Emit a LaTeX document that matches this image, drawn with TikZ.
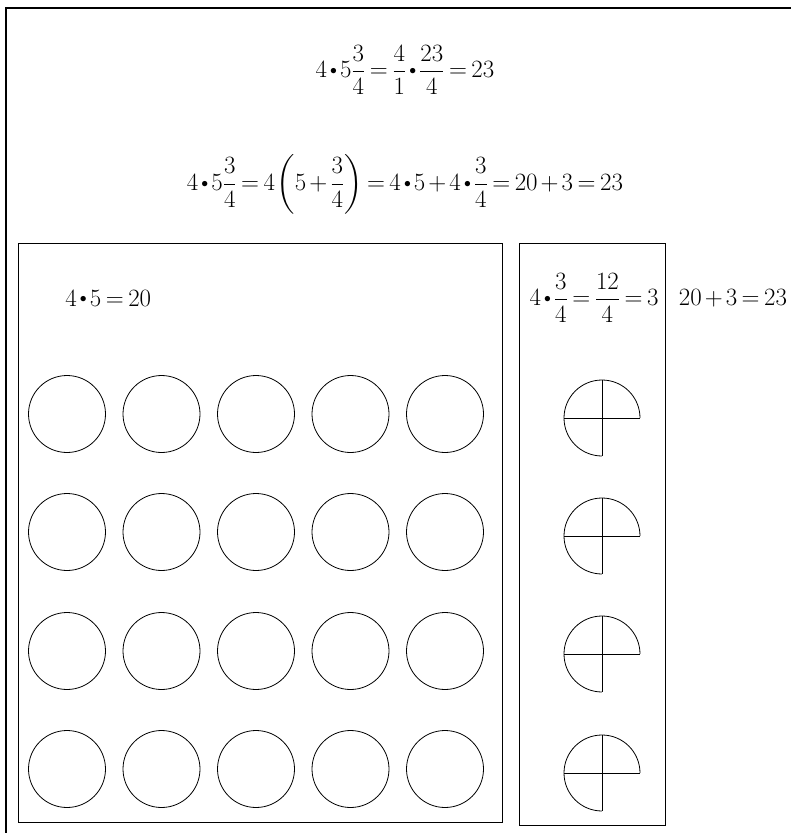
\documentclass[tikz,border=0pt]{standalone}
\usepackage{amsmath}
\usepackage{graphicx}

\newcommand{\tdot}{\mathbin{\vcenter{\hbox{\scalebox{0.55}{$\bullet$}}}}}

\begin{document}
\begin{tikzpicture}[x=1pt, y=-1pt, line width=0.8pt,
    every node/.style={font=\fontsize{25}{30}\selectfont, inner sep=0pt},
    eq/.style={execute at begin node={\medmuskip=2.25mu\thickmuskip=3.3mu\thinmuskip=1mu}}]

    \useasboundingbox (0,0) rectangle (791,833);

    % outer frame (top and left only)
    \draw[line width=1.3pt] (791,8) -- (6,8) -- (6,833);

    % first way
    \node[eq] (wayone) at (405,70) {$\displaystyle 4\tdot5\frac{3}{4}=\frac{4}{1}\tdot\frac{23}{4}=23$};

    % second way
    \node[eq] (waytwo) at (405,184) {$\displaystyle 4\tdot5\frac{3}{4}=4\left(5+\frac{3}{4}\right)=4\tdot5+4\tdot\frac{3}{4}=20+3=23$};

    % box of whole ones
    \draw (18,243) rectangle (502,822);
    \node[eq, anchor=west] (wholes) at (65,298) {$4\tdot5=20$};
    \foreach \row in {414,532,651,769}
        \foreach \col in {67,161.5,256,350.5,445}
            \draw (\col,\row) circle[radius=38.5pt];

    % box of quarters
    \draw (519,243) rectangle (665,825);
    \node[eq] (parts) at (594,298) {$\displaystyle 4\tdot\frac{3}{4}=\frac{12}{4}=3$};
    \foreach \row in {418,536,654,773} {
        \draw (640,\row) arc[start angle=0, end angle=270, radius=38pt];
        \draw (564,\row) -- (640,\row);
        \draw (602,\row-38) -- (602,\row+38);
    }

    % sum
    \node[eq] (total) at (733,298) {$20+3=23$};

\end{tikzpicture}
\end{document}
